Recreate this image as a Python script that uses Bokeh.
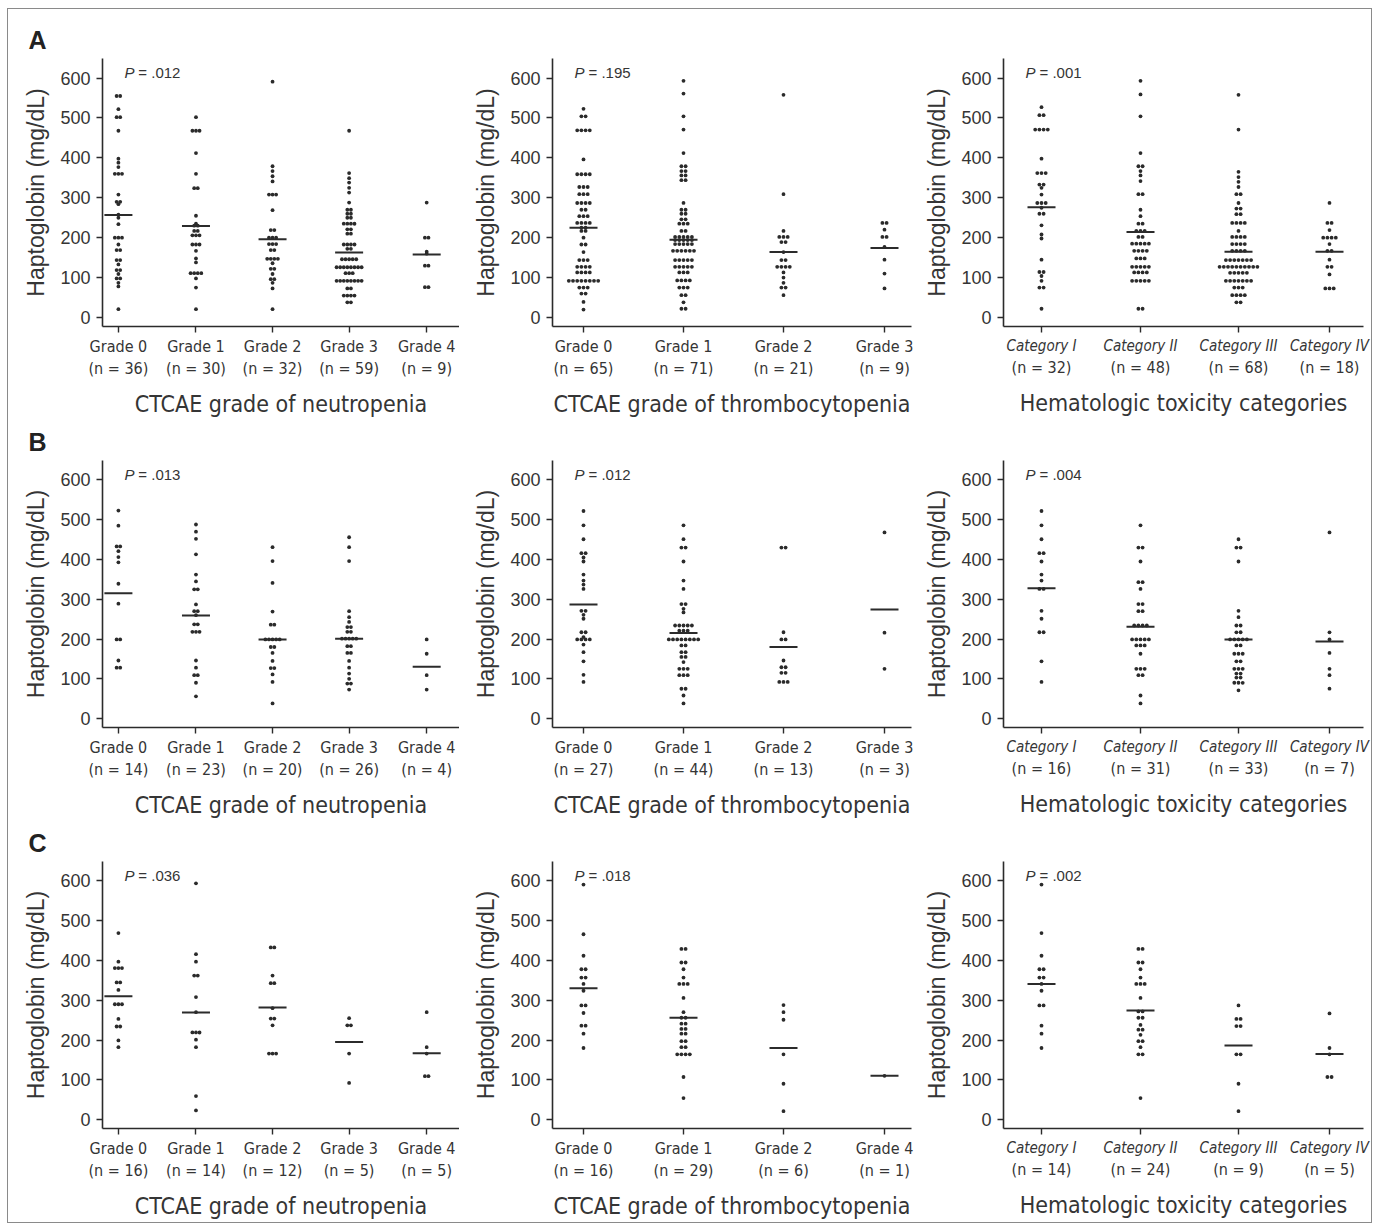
from bokeh.plotting import figure
from bokeh.layouts import gridplot
from bokeh.models import Range1d, FixedTicker, LinearAxis
from bokeh.core.properties import value
from bokeh.embed import file_html
from bokeh.resources import INLINE

# ---------------- data ----------------
y_ticks = [0, 100, 200, 300, 400, 500, 600]

neut_grades = ["Grade 0", "Grade 1", "Grade 2", "Grade 3", "Grade 4"]
thromb_grades_ab = ["Grade 0", "Grade 1", "Grade 2", "Grade 3"]
thromb_grades_c = ["Grade 0", "Grade 1", "Grade 2", "Grade 4"]
tox_categories = ["Category I", "Category II", "Category III", "Category IV"]

x_titles = ["CTCAE grade of neutropenia", "CTCAE grade of thrombocytopenia",
            "Hematologic toxicity categories"]
row_letters = ["A", "B", "C"]

A_neutropenia = [
    [555,555,522,502,502,468,398,388,377,360,360,360,308,290,290,284,258,250,234,200,200,200,183,169,169,144,144,133,119,119,109,98,98,87,78,21],
    [502,468,468,468,412,360,324,324,255,235,230,230,217,217,206,206,206,183,183,183,167,148,138,111,111,111,111,98,75,21],
    [591,379,367,354,341,308,308,308,269,219,219,200,200,200,184,184,184,169,169,147,147,147,147,136,122,122,109,96,96,87,73,21],
    [468,362,349,338,325,313,288,270,270,260,260,250,250,235,235,235,235,221,221,210,210,183,183,183,183,172,172,146,146,146,146,146,126,126,126,126,126,126,126,126,111,111,111,92,92,92,92,92,92,92,92,73,73,55,55,55,55,38,38],
    [288,200,200,165,160,130,130,76,76],
]
A_neutropenia_median = [257, 229, 196, 163, 158]

A_thrombocytopenia = [
    [523,504,504,469,469,469,469,396,359,359,359,359,327,327,327,309,309,309,287,287,287,287,270,270,254,254,254,237,237,237,237,225,225,217,217,200,183,183,164,144,144,144,127,127,127,127,113,113,113,113,92,92,92,92,92,92,92,92,75,75,75,60,60,39,20],
    [593,561,504,471,412,379,379,367,367,356,356,344,344,287,270,270,260,260,246,246,235,235,235,217,217,202,202,202,202,202,194,194,194,194,194,184,184,184,184,184,167,167,167,167,167,167,144,144,144,144,144,127,127,127,127,127,113,113,113,93,93,93,93,75,75,75,56,56,38,22,22],
    [558,309,217,202,202,202,189,189,164,144,144,127,127,127,127,113,100,87,75,75,56],
    [237,237,220,202,202,177,145,110,73],
]
A_thrombocytopenia_median = [225, 195, 164, 174]

A_toxicity = [
    [527,507,507,471,471,471,471,398,362,362,362,333,333,325,308,287,287,287,275,260,260,231,208,198,145,114,114,104,92,75,75,22],
    [593,559,504,412,379,379,367,356,342,309,309,270,254,235,235,217,217,217,202,202,185,185,185,185,185,167,167,167,167,148,148,148,127,127,127,127,127,113,113,113,113,92,92,92,92,92,22,22],
    [558,471,365,352,340,327,309,309,287,273,273,259,259,237,237,237,237,217,202,202,202,202,184,184,184,184,167,167,167,167,144,144,144,144,144,144,144,127,127,127,127,127,127,127,127,127,127,112,112,112,112,112,92,92,92,92,92,92,92,75,75,75,56,56,56,56,38,38],
    [287,237,237,219,200,200,200,200,184,167,167,145,127,127,108,73,73,73],
]
A_toxicity_median = [276, 214, 165, 165]

B_neutropenia = [
    [523,485,433,433,421,406,393,339,289,199,199,146,128,128],
    [488,470,452,413,362,345,325,325,287,270,270,260,237,237,218,218,218,146,128,109,109,90,56],
    [431,396,341,269,236,236,199,199,199,199,199,180,180,165,145,127,127,111,92,38],
    [456,431,396,270,255,243,230,230,218,218,201,201,201,201,201,182,182,165,165,145,128,113,100,88,88,73],
    [199,163,109,73],
]
B_neutropenia_median = [315, 259, 199, 201, 130]

B_thrombocytopenia = [
    [522,486,451,416,416,405,395,362,347,337,326,271,271,261,251,217,217,205,199,199,199,199,186,167,144,110,92],
    [486,451,430,430,395,347,326,288,288,276,267,234,234,234,234,234,221,221,221,199,199,199,199,199,199,199,199,184,184,167,167,155,155,142,125,125,125,109,109,109,75,75,58,38],
    [430,430,217,199,199,146,129,129,115,115,92,92,92],
    [468,216,125],
]
B_thrombocytopenia_median = [287, 215, 180, 274]

B_toxicity = [
    [522,486,451,416,416,395,362,347,326,326,271,251,217,217,144,92],
    [486,430,430,395,343,343,326,288,288,270,270,234,234,234,234,199,199,199,199,199,184,184,184,163,125,125,125,109,109,58,38],
    [451,430,430,395,271,255,234,234,217,217,199,199,199,199,199,184,184,163,163,163,144,144,125,125,125,113,113,103,103,90,90,90,71],
    [468,217,199,165,125,109,75],
]
B_toxicity_median = [328, 231, 199, 194]

C_neutropenia = [
    [469,397,381,381,381,345,345,326,290,290,290,253,234,234,199,182],
    [594,416,397,362,362,308,270,219,219,219,201,182,59,23],
    [433,433,362,343,343,280,254,254,237,166,166,166],
    [255,237,237,166,92],
    [270,182,166,109,109],
]
C_neutropenia_median = [310, 269, 282, 195, 167]

C_thrombocytopenia = [
    [591,466,412,378,378,357,357,341,324,287,287,268,236,236,216,180],
    [429,429,395,395,378,357,341,341,341,306,270,256,256,241,241,228,228,216,216,197,197,182,182,164,164,164,164,107,54],
    [288,270,251,164,90,21],
    [110],
]
C_thrombocytopenia_median = [330, 256, 180, 110]

C_toxicity = [
    [591,469,412,378,378,357,357,341,324,287,287,236,216,180],
    [429,429,395,395,378,357,341,341,341,306,272,272,256,256,238,226,226,213,197,197,182,164,164,54],
    [287,253,253,235,235,164,164,90,21],
    [267,180,164,107,107],
]
C_toxicity_median = [341, 274, 186, 165]

p_values = [[".012", ".195", ".001"],
            [".013", ".012", ".004"],
            [".036", ".018", ".002"]]

# ---------------- layout / style ----------------
TXT = "#353535"
INK = "#2b2b2b"
NUM_FONT = "Liberation Sans"
COND_FONT = "DejaVu Sans Condensed"

# per column: figure width, left border, frame width, category positions (px in frame), dot pitch
COLS = [
    dict(w=451, left=94, frame=359, pos=[16, 94, 171, 248, 326], pitch=3.6),
    dict(w=458, left=93, frame=359, pos=[31, 131, 231, 332], pitch=4.2),
    dict(w=454, left=86, frame=360, pos=[38, 137, 235, 326], pitch=4.2),
]
FRAME_H = 268
BOTTOM = 94
ROW_TOP = [49, 39, 39]
Y0, Y1 = -22.5, 649.0


def swarm(vals, center, pitch):
    groups = {}
    for v in sorted(vals, reverse=True):
        groups.setdefault(v, []).append(v)
    xs, ys = [], []
    for v, vs in groups.items():
        k = len(vs)
        for j in range(k):
            xs.append(center + (j - (k - 1) / 2) * pitch)
            ys.append(v)
    return xs, ys


def style_axis(ax):
    ax.axis_line_color = INK
    ax.axis_line_width = 1.6
    ax.major_tick_line_color = INK
    ax.major_tick_line_width = 1.4
    ax.major_tick_out = 6
    ax.major_tick_in = 0
    ax.minor_tick_line_color = None


def panel(r, c, cats, groups, medians, pval, xtitle, italic_cats=False):
    cfg = COLS[c]
    top = ROW_TOP[r]
    h = top + FRAME_H + BOTTOM
    p = figure(width=cfg["w"], height=h,
               x_range=Range1d(0, cfg["frame"]), y_range=Range1d(Y0, Y1),
               x_axis_type=None, output_backend="svg", toolbar_location=None,
               min_border_left=cfg["left"], min_border_right=cfg["w"] - cfg["left"] - cfg["frame"],
               min_border_top=top, min_border_bottom=BOTTOM)
    p.outline_line_color = None
    p.grid.visible = False
    p.background_fill_color = "white"
    p.border_fill_color = "white"

    pos = cfg["pos"]
    # y axis
    ya = p.yaxis[0]
    style_axis(ya)
    ya.ticker = FixedTicker(ticks=y_ticks)
    ya.axis_label = "Haptoglobin (mg/dL)"
    ya.axis_label_text_font = NUM_FONT
    ya.axis_label_text_font_size = "23px"
    ya.axis_label_text_font_style = "normal"
    ya.axis_label_text_color = TXT
    ya.axis_label_standoff = 8
    ya.major_label_text_font = NUM_FONT
    ya.major_label_text_font_size = "18px"
    ya.major_label_text_color = TXT
    ya.major_label_standoff = 6

    # x axis: category names
    ax1 = LinearAxis(ticker=FixedTicker(ticks=pos),
                     major_label_overrides={pos[i]: cats[i] for i in range(len(cats))})
    style_axis(ax1)
    ax1.major_label_text_font = COND_FONT
    ax1.major_label_text_font_size = "15px" if italic_cats else "16px"
    ax1.major_label_text_color = TXT
    ax1.major_label_text_font_style = "italic" if italic_cats else "normal"
    ax1.major_label_standoff = 4
    p.add_layout(ax1, "below")

    # x axis: n counts + title
    ax2 = LinearAxis(ticker=FixedTicker(ticks=pos),
                     major_label_overrides={pos[i]: f"(n = {len(groups[i])})" for i in range(len(cats))})
    ax2.axis_line_color = None
    ax2.major_tick_line_color = None
    ax2.major_tick_out = 0
    ax2.major_tick_in = 0
    ax2.minor_tick_line_color = None
    ax2.major_label_text_font = COND_FONT
    ax2.major_label_text_font_size = "16px"
    ax2.major_label_text_color = TXT
    ax2.major_label_standoff = 0
    ax2.axis_label = xtitle
    ax2.axis_label_text_font = COND_FONT
    ax2.axis_label_text_font_size = "23px"
    ax2.axis_label_text_font_style = "normal"
    ax2.axis_label_text_color = TXT
    ax2.axis_label_standoff = 10
    p.add_layout(ax2, "below")

    # dots
    xs, ys = [], []
    for i, vals in enumerate(groups):
        gx, gy = swarm(vals, pos[i], cfg["pitch"])
        xs += gx
        ys += gy
    p.scatter(xs, ys, size=3.8, color=INK, line_color=None, marker="circle")

    # medians
    p.scatter(pos[:len(medians)], medians, marker="dash", size=28,
              line_color=INK, line_width=2)

    # P value (placed 14 px below frame top)
    ppy = FRAME_H / (Y1 - Y0)
    yp = Y1 - 14 / ppy
    p.text(x=[22], y=[yp], text=["P"], text_font=value(NUM_FONT), text_font_size="15px",
           text_font_style="italic", text_color=TXT, text_baseline="alphabetic")
    p.text(x=[36], y=[yp], text=["= " + pval], text_font=value(NUM_FONT), text_font_size="15px",
           text_color=TXT, text_baseline="alphabetic")

    if c == 0:
        p.title.text = row_letters[r]
        p.title.text_font = NUM_FONT
        p.title.text_font_size = "25px"
        p.title.text_font_style = "bold"
        p.title.text_color = "#222222"
        p.title.align = "left"
        p.title.offset = -74
        p.title.standoff = 10
    return p


rows_data = [
    [(neut_grades, A_neutropenia, A_neutropenia_median),
     (thromb_grades_ab, A_thrombocytopenia, A_thrombocytopenia_median),
     (tox_categories, A_toxicity, A_toxicity_median)],
    [(neut_grades, B_neutropenia, B_neutropenia_median),
     (thromb_grades_ab, B_thrombocytopenia, B_thrombocytopenia_median),
     (tox_categories, B_toxicity, B_toxicity_median)],
    [(neut_grades, C_neutropenia, C_neutropenia_median),
     (thromb_grades_c, C_thrombocytopenia, C_thrombocytopenia_median),
     (tox_categories, C_toxicity, C_toxicity_median)],
]

grid_rows = []
for r in range(3):
    row = []
    for c in range(3):
        cats, groups, meds = rows_data[r][c]
        row.append(panel(r, c, cats, groups, meds, p_values[r][c], x_titles[c],
                         italic_cats=(c == 2)))
    grid_rows.append(row)

grid = gridplot(grid_rows, toolbar_location=None)
grid.styles = {"border": "1px solid #8a8a8a", "margin-left": "7px", "margin-top": "8px"}

open("out.html", "w").write(file_html(grid, INLINE))
